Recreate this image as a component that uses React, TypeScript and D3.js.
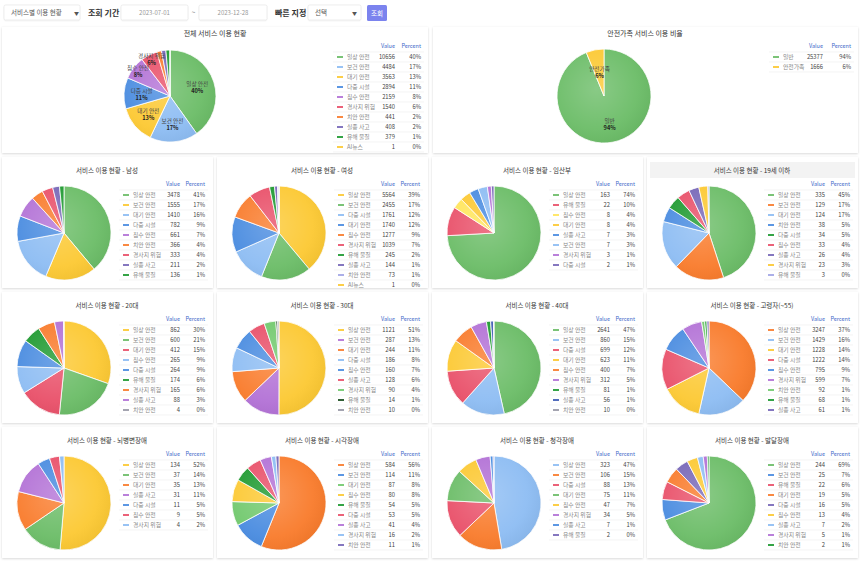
import React from 'react';
import * as d3 from 'd3';

type Row = [string, number, number];

const FONT = "'Noto Sans CJK KR', 'Noto Sans', sans-serif";

// palette
const G = '#6cbd68', Y = '#fcc934', LB = '#8ebdf3', B = '#4a8ce0', P = '#b372d6', O = '#f97c2d',
  R = '#e9516a', DG = '#1f9a31', DP = '#7868b8', LP = '#a3a6e6', GR = '#9a9aa8', LY = '#ffe55c',
  LG = '#72c96e', NV = '#3f5cb5', BK = '#1b4d1f';

// ---- data ----
const totalRows: Row[] = [
  ['일상 안전', 10656, 40], ['보건 안전', 4484, 17], ['대기 안전', 3563, 13], ['다중 시설', 2894, 11],
  ['침수 안전', 2159, 8], ['경사지 위험', 1540, 6], ['치안 안전', 441, 2], ['실종 사고', 408, 2],
  ['유해 물질', 379, 1], ['AI뉴스', 1, 0],
];
const totalColors = [G, LB, Y, B, P, R, O, DP, DG, Y];

const safetyRows: Row[] = [['일반', 25377, 94], ['안전가족', 1666, 6]];
const safetyColors = [G, Y];

const maleRows: Row[] = [
  ['일상 안전', 3478, 41], ['보건 안전', 1555, 17], ['대기 안전', 1410, 16], ['다중 시설', 782, 9],
  ['침수 안전', 661, 7], ['치안 안전', 366, 4], ['경사지 위험', 333, 4], ['실종 사고', 211, 2], ['유해 물질', 136, 1],
];
const maleColors = [G, Y, LB, B, P, O, R, DP, DG];

const femaleRows: Row[] = [
  ['일상 안전', 5564, 39], ['보건 안전', 2455, 17], ['다중 시설', 1761, 12], ['대기 안전', 1740, 12],
  ['침수 안전', 1277, 9], ['경사지 위험', 1039, 7], ['유해 물질', 245, 2], ['실종 사고', 144, 1],
  ['치안 안전', 73, 1], ['AI뉴스', 1, 0],
];
const femaleColors = [Y, G, LB, B, O, R, DG, DP, LP, Y];

const pregnantRows: Row[] = [
  ['일상 안전', 163, 74], ['유해 물질', 22, 10], ['침수 안전', 8, 4], ['대기 안전', 8, 4],
  ['실종 사고', 7, 3], ['보건 안전', 7, 3], ['경사지 위험', 3, 1], ['다중 시설', 2, 1],
];
const pregnantColors = [G, R, LY, Y, B, LB, P, DP];

const under19Rows: Row[] = [
  ['일상 안전', 335, 45], ['보건 안전', 129, 17], ['대기 안전', 124, 17], ['치안 안전', 38, 5],
  ['다중 시설', 34, 5], ['침수 안전', 33, 4], ['실종 사고', 26, 4], ['경사지 위험', 23, 3], ['유해 물질', 3, 0],
];
const under19Colors = [G, O, LB, B, DG, R, DP, Y, LP];

const twentiesRows: Row[] = [
  ['일상 안전', 862, 30], ['보건 안전', 600, 21], ['대기 안전', 412, 15], ['침수 안전', 265, 9],
  ['다중 시설', 264, 9], ['유해 물질', 174, 6], ['경사지 위험', 165, 6], ['실종 사고', 88, 3], ['치안 안전', 4, 0],
];
const twentiesColors = [Y, G, R, LB, B, DG, O, P, GR];

const thirtiesRows: Row[] = [
  ['일상 안전', 1121, 51], ['보건 안전', 287, 13], ['대기 안전', 244, 11], ['다중 시설', 186, 8],
  ['침수 안전', 160, 7], ['실종 사고', 128, 6], ['경사지 위험', 90, 4], ['유해 물질', 14, 1], ['치안 안전', 10, 0],
];
const thirtiesColors = [Y, P, O, LB, B, R, LG, BK, GR];

const fortiesRows: Row[] = [
  ['일상 안전', 2641, 47], ['보건 안전', 860, 15], ['다중 시설', 699, 12], ['대기 안전', 623, 11],
  ['침수 안전', 400, 7], ['경사지 위험', 312, 5], ['유해 물질', 81, 1], ['실종 사고', 56, 1], ['치안 안전', 10, 0],
];
const fortiesColors = [G, LB, R, Y, O, P, DG, NV, GR];

const elderlyRows: Row[] = [
  ['일상 안전', 3247, 37], ['보건 안전', 1429, 16], ['대기 안전', 1228, 14], ['다중 시설', 1222, 14],
  ['침수 안전', 795, 9], ['경사지 위험', 599, 7], ['치안 안전', 92, 1], ['유해 물질', 68, 1], ['실종 사고', 61, 1],
];
const elderlyColors = [O, LB, Y, R, B, P, LG, DG, DP];

const brainRows: Row[] = [
  ['일상 안전', 134, 52], ['보건 안전', 37, 14], ['대기 안전', 35, 13], ['실종 사고', 31, 11],
  ['다중 시설', 11, 5], ['침수 안전', 9, 5], ['경사지 위험', 4, 2],
];
const brainColors = [Y, G, O, P, B, R, LB];

const visualRows: Row[] = [
  ['일상 안전', 584, 56], ['보건 안전', 114, 11], ['대기 안전', 87, 8], ['침수 안전', 80, 8],
  ['유해 물질', 54, 5], ['다중 시설', 53, 5], ['실종 사고', 41, 4], ['경사지 위험', 16, 2], ['치안 안전', 11, 1],
];
const visualColors = [O, B, LG, Y, DG, R, P, LB, DP];

const hearingRows: Row[] = [
  ['일상 안전', 323, 47], ['보건 안전', 106, 15], ['다중 시설', 88, 13], ['대기 안전', 75, 11],
  ['침수 안전', 47, 7], ['경사지 위험', 34, 5], ['실종 사고', 7, 1], ['유해 물질', 2, 0],
];
const hearingColors = [LB, O, R, G, Y, P, B, DP];

const devRows: Row[] = [
  ['일상 안전', 244, 69], ['보건 안전', 25, 7], ['유해 물질', 22, 6], ['대기 안전', 19, 5],
  ['다중 시설', 16, 5], ['침수 안전', 13, 4], ['실종 사고', 7, 2], ['경사지 위험', 5, 1], ['치안 안전', 2, 1],
];
const devColors = [G, B, R, O, DP, Y, LB, P, DG];

const smallTitles = ['남성', '여성', '임산부', '19세 이하', '20대', '30대', '40대', '고령자(~55)', '뇌병변장애', '시각장애', '청각장애', '발달장애'];
const smallRows = [maleRows, femaleRows, pregnantRows, under19Rows, twentiesRows, thirtiesRows, fortiesRows, elderlyRows, brainRows, visualRows, hearingRows, devRows];
const smallColors = [maleColors, femaleColors, pregnantColors, under19Colors, twentiesColors, thirtiesColors, fortiesColors, elderlyColors, brainColors, visualColors, hearingColors, devColors];

// ---- components ----
function Pie({ cx, cy, r, rows, colors, labels, bigF = 0.6, smallF = 0.6 }: {
  cx: number; cy: number; r: number; rows: Row[]; colors: string[]; labels?: boolean; bigF?: number; smallF?: number;
}) {
  const pie = d3.pie<Row>().value((d) => d[1]).sort(null);
  const arcs = pie(rows);
  const arc = d3.arc<d3.PieArcDatum<Row>>().innerRadius(0).outerRadius(r);
  const labBig = d3.arc<d3.PieArcDatum<Row>>().innerRadius(r * bigF).outerRadius(r * bigF);
  const labSmall = d3.arc<d3.PieArcDatum<Row>>().innerRadius(r * smallF).outerRadius(r * smallF);
  return (
    <g transform={`translate(${cx},${cy})`}>
      {arcs.map((a, i) => (
        <path key={i} d={arc(a) || ''} fill={colors[i]} stroke="#fff" strokeWidth={0.8} />
      ))}
      <circle r={r} fill="url(#shade)" pointerEvents="none" />
      {labels &&
        arcs
          .filter((a) => a.data[2] >= 5)
          .map((a, i) => {
            const [x, y] = (a.data[2] >= 10 ? labBig : labSmall).centroid(a);
            return (
              <text key={i} textAnchor="middle" fontFamily={FONT} fontSize={5.6}>
                <tspan x={x} y={y - 1.5} fill="#444">{a.data[0]}</tspan>
                <tspan x={x} y={y + 5.5} fill="#222" fontWeight="bold">{a.data[2]}%</tspan>
              </text>
            );
          })}
    </g>
  );
}

function Legend({ mx, y0, rows, colors, valueR, pctR }: { mx: number; y0: number; rows: Row[]; colors: string[]; valueR: number; pctR: number }) {
  const ys = rows.map((_, i) => y0 + 11 + i * 10);
  return (
    <g fontFamily={FONT}>
      <text x={valueR} y={y0 + 2} textAnchor="end" fontSize={5.5} fill="#3a66c8">Value</text>
      <text x={pctR} y={y0 + 2} textAnchor="end" fontSize={5.5} fill="#3a66c8">Percent</text>
      {rows.map((d, i) => (
        <g key={i}>
          <line x1={mx - 4} x2={pctR + 3} y1={ys[i] - 5} y2={ys[i] - 5} stroke="#ececec" strokeWidth={0.6} />
          <line x1={mx} x2={mx + 6} y1={ys[i]} y2={ys[i]} stroke={colors[i]} strokeWidth={1.8} />
          <text x={mx + 10} y={ys[i] + 2} fontSize={5.8} fill="#888">{d[0]}</text>
          <text x={valueR} y={ys[i] + 2} fontSize={5.8} fill="#444" textAnchor="end">{d[1]}</text>
          <text x={pctR} y={ys[i] + 2} fontSize={5.8} fill="#444" textAnchor="end">{d[2]}%</text>
        </g>
      ))}
      <line x1={mx - 4} x2={pctR + 3} y1={ys[ys.length - 1] + 5} y2={ys[ys.length - 1] + 5} stroke="#ececec" strokeWidth={0.6} />
    </g>
  );
}

function Card({ id, x, y, w, h, children }: { id: string; x: number; y: number; w: number; h: number; children: React.ReactNode }) {
  return (
    <g>
      <rect x={x} y={y} width={w} height={h} fill="#fff" filter="url(#cardShadow)" />
      <clipPath id={id}>
        <rect x={x} y={y} width={w} height={h} />
      </clipPath>
      <g clipPath={`url(#${id})`}>{children}</g>
    </g>
  );
}

function Box({ x, y, w, h }: { x: number; y: number; w: number; h: number }) {
  return <rect x={x} y={y} width={w} height={h} rx={1.5} fill="#fff" stroke="#e6e6e6" strokeWidth={0.7} filter="url(#boxShadow)" />;
}

export default function App() {
  return (
    <svg width={862} height={562} style={{ position: 'absolute', left: 0, top: 0, background: '#fff' }}>
      <defs>
        <filter id="cardShadow" x="-5%" y="-5%" width="110%" height="115%">
          <feDropShadow dx="0" dy="0.8" stdDeviation="1" floodColor="#000" floodOpacity="0.16" />
        </filter>
        <filter id="boxShadow" x="-10%" y="-20%" width="120%" height="150%">
          <feDropShadow dx="0" dy="0.5" stdDeviation="0.6" floodColor="#000" floodOpacity="0.1" />
        </filter>
        <radialGradient id="shade" cx="0.42" cy="0.42" r="0.62">
          <stop offset="0" stopColor="#fff" stopOpacity="0.2" />
          <stop offset="0.7" stopColor="#fff" stopOpacity="0.04" />
          <stop offset="1" stopColor="#000" stopOpacity="0.04" />
        </radialGradient>
      </defs>

      {/* top bar */}
      <g fontFamily={FONT}>
        <Box x={4} y={5} w={76} h={15} />
        <text x={11} y={15} fontSize={6.5} fill="#555">서비스별 이용 현황</text>
        <text x={74} y={14.5} fontSize={5} fill="#555">▼</text>
        <text x={88} y={15.5} fontSize={8} fontWeight="bold" fill="#333">조회 기간</text>
        <Box x={121} y={5} w={67} h={15} />
        <text x={154.5} y={15} fontSize={6} fill="#999" textAnchor="middle">2023-07-01</text>
        <text x={193.5} y={15} fontSize={7} fill="#888" textAnchor="middle">~</text>
        <Box x={199} y={5} w={68} h={15} />
        <text x={233} y={15} fontSize={6} fill="#999" textAnchor="middle">2023-12-28</text>
        <text x={275} y={15.5} fontSize={8} fontWeight="bold" fill="#333">빠른 지정</text>
        <Box x={308} y={5} w={53} h={15} />
        <text x={315} y={15} fontSize={6.5} fill="#555">선택</text>
        <text x={352} y={14.5} fontSize={5} fill="#555">▼</text>
        <rect x={367} y={5} width={20} height={16} rx={1.5} fill="#7b83ee" />
        <text x={377} y={15.5} fontSize={6.5} fill="#fff" textAnchor="middle">조회</text>
      </g>

      {/* overall card */}
      <Card id="c-total" x={2} y={27} w={426} h={126}>
        <text x={215} y={35.5} textAnchor="middle" fontFamily={FONT} fontSize={7} fill="#333">전체 서비스 이용 현황</text>
        <Pie cx={170} cy={96} r={46} rows={totalRows} colors={totalColors} labels bigF={0.62} smallF={0.88} />
        <Legend mx={337} y0={46} rows={totalRows} colors={totalColors} valueR={395} pctR={421} />
      </Card>

      {/* safety family card */}
      <Card id="c-safety" x={433} y={27} w={425} h={126}>
        <text x={645} y={35.5} textAnchor="middle" fontFamily={FONT} fontSize={7} fill="#333">안전가족 서비스 이용 비율</text>
        <Pie cx={604} cy={96} r={47} rows={safetyRows} colors={safetyColors} labels bigF={0.62} smallF={0.5} />
        <Legend mx={773} y0={46} rows={safetyRows} colors={safetyColors} valueR={823} pctR={851} />
      </Card>

      {smallTitles.map((t, i) => {
        const col = i % 4;
        const row = Math.floor(i / 4);
        const x0 = 2 + col * 215;
        const y0 = 157 + row * 135;
        return (
          <Card key={i} id={`c-small-${i}`} x={x0} y={y0} w={211} h={131}>
            {i === 3 && <rect x={x0 + 3} y={y0 + 5} width={205} height={16} fill="#f3f3f3" />}
            <text x={x0 + 105} y={y0 + 15.5} textAnchor="middle" fontFamily={FONT} fontSize={6.5} fill="#333">
              {`서비스 이용 현황 - ${t}`}
            </text>
            <Pie cx={x0 + 62} cy={y0 + 76} r={47} rows={smallRows[i]} colors={smallColors[i]} />
            <Legend mx={x0 + 121} y0={y0 + 27} rows={smallRows[i]} colors={smallColors[i]} valueR={x0 + 178} pctR={x0 + 203} />
          </Card>
        );
      })}
    </svg>
  );
}
